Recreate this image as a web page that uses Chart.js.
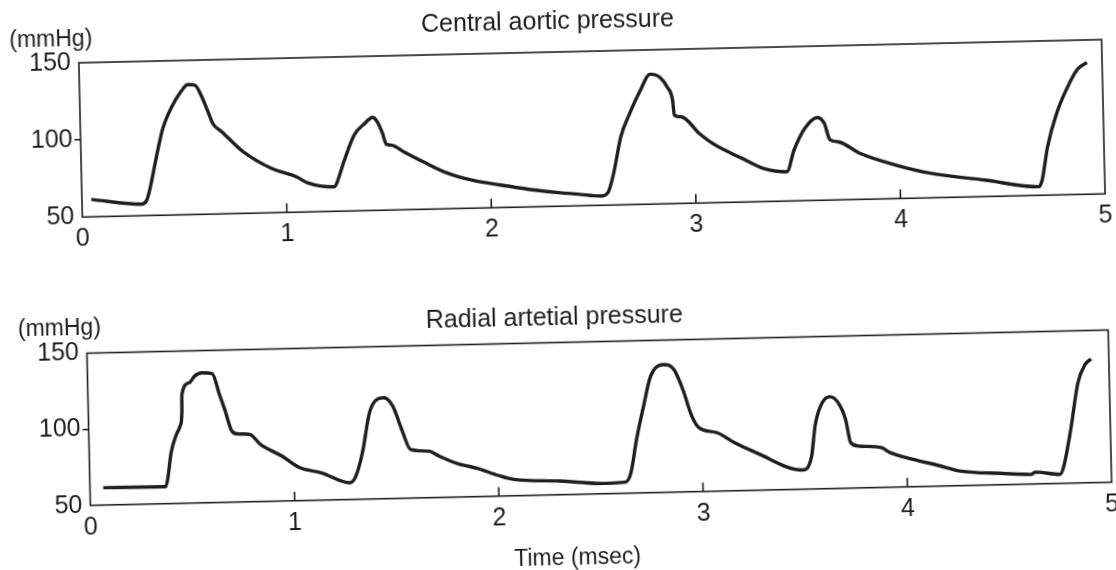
<!DOCTYPE html>
<html>
<head>
<meta charset="utf-8">
<script src="https://cdn.jsdelivr.net/npm/chart.js@4/dist/chart.umd.min.js"></script>
<style>
  html, body { margin: 0; padding: 0; background: #fff; overflow: hidden; }
  #sheet {
    position: absolute; left: 0; top: 0; width: 1116px; height: 570px;
    transform: rotate(-1.3deg); transform-origin: 558px 285px;
    font-family: 'Liberation Sans', Arial, sans-serif; color: #1e1e1e;
  }
  canvas { position: absolute; left: 0; }
  .lbl { position: absolute; font-size: 23px; line-height: 27px; white-space: nowrap; }
</style>
</head>
<body>
<div id="sheet">
  <canvas id="aortique" width="1116" height="280" style="top:0"></canvas>
  <canvas id="radiale" width="1116" height="290" style="top:280px"></canvas>
  <div class="lbl" style="left:15px; top:14px">(mmHg)</div>
  <div class="lbl" style="left:17px; top:303px">(mmHg)</div>
  <div class="lbl" style="left:508px; top:544px">Time (msec)</div>
</div>
<script>
// axes
const timeTicks = [0, 1, 2, 3, 4, 5];
const innerTicks = [1, 2, 3, 4];
const pressureTicks = [50, 100, 150];

// central aortic pressure
const aorticTime = [
  0.046, 0.29, 0.317, 0.336, 0.365, 0.384, 0.403, 0.449, 0.495, 0.530,
  0.565, 0.590, 0.623, 0.648, 0.691, 0.794, 0.931, 1.052, 1.104, 1.235,
  1.253, 1.281, 1.337, 1.39, 1.429, 1.452, 1.476, 1.493, 1.518, 1.579,
  1.682, 1.786, 1.907, 2.047, 2.186, 2.339, 2.424, 2.537, 2.573, 2.601,
  2.640, 2.686, 2.741, 2.790, 2.839, 2.872, 2.897, 2.904, 2.939, 3.024,
  3.093, 3.231, 3.334, 3.448, 3.485, 3.540, 3.602, 3.636, 3.661, 3.704,
  3.807, 3.981, 4.154, 4.415, 4.676, 4.694, 4.724, 4.772, 4.846, 4.882,
  4.926
];
const aorticPressure = [
  61.3, 57.5, 60.1, 68.6, 85.8, 96.6, 106.2, 120.1, 129.7, 134.3,
  133.8, 128.3, 117.4, 108.7, 103.2, 89.9, 78.7, 72.9, 68.9, 65.9,
  70.2, 80.9, 99.1, 106.5, 110.3, 107.3, 99.8, 92.8, 92.1, 87.5,
  80.1, 73.3, 68.2, 64.6, 61.4, 58.7, 57.6, 56.0, 58.6, 70.5,
  94.1, 109.1, 124.0, 134.2, 131.9, 125.7, 117.1, 107.3, 106.1, 95.1,
  88.0, 78.3, 71.5, 69.0, 82.9, 96.8, 103.7, 99.7, 89.3, 87.6,
  79.8, 71.7, 65.8, 60.7, 55.6, 59.8, 81.3, 102.8, 124.2, 131.6,
  135.4
];

// radial arterial pressure
const radialTime = [
  0.065, 0.371, 0.381, 0.401, 0.429, 0.448, 0.458, 0.460, 0.497, 0.523,
  0.559, 0.611, 0.644, 0.668, 0.701, 0.727, 0.788, 0.839, 0.943, 1.029,
  1.133, 1.272, 1.299, 1.337, 1.376, 1.413, 1.448, 1.491, 1.532, 1.573,
  1.661, 1.713, 1.799, 1.904, 1.999, 2.077, 2.301, 2.508, 2.622, 2.649,
  2.680, 2.718, 2.756, 2.819, 2.871, 2.912, 2.953, 2.987, 3.074, 3.160,
  3.264, 3.489, 3.535, 3.555, 3.584, 3.629, 3.671, 3.705, 3.728, 3.772,
  3.877, 3.920, 4.032, 4.154, 4.259, 4.468, 4.608, 4.626, 4.748, 4.766,
  4.806, 4.846, 4.883, 4.913
];
const radialPressure = [
  61.4, 61.1, 65.9, 83.4, 95.3, 100.7, 109.4, 121.4, 129.0, 133.2,
  135.4, 134.7, 120.9, 111.0, 96.6, 94.8, 94.2, 87.5, 79.5, 71.6,
  68.0, 61.0, 64.2, 80.5, 106.6, 115.2, 116.3, 110.6, 95.2, 81.9,
  80.6, 77.1, 72.1, 68.3, 63.6, 60.7, 59.0, 56.8, 57.3, 63.4,
  85.2, 106.9, 126.5, 133.9, 130.5, 117.3, 99.6, 91.9, 88.4, 81.5,
  74.7, 62.6, 71.6, 91.2, 104.3, 110.3, 106.2, 95.2, 79.8, 77.4,
  76.1, 72.7, 67.9, 63.6, 59.6, 57.4, 56.3, 57.8, 55.9, 60.3,
  85.3, 115.8, 127.7, 131.3
];

const ink = '#1e1e1e';
const fontFamily = "'Liberation Sans', Arial, sans-serif";

// cadre complet + petits traits vers l'intérieur sur l'axe du temps
const cadre = {
  id: 'cadre',
  beforeDatasetsDraw(chart) {
    const { ctx, chartArea: a, scales: { x } } = chart;
    ctx.save();
    ctx.strokeStyle = ink;
    ctx.lineWidth = 1.6;
    ctx.strokeRect(a.left, a.top, a.right - a.left, a.bottom - a.top);
    ctx.beginPath();
    innerTicks.forEach(v => {
      const px = x.getPixelForValue(v);
      ctx.moveTo(px, a.bottom);
      ctx.lineTo(px, a.bottom - 9);
    });
    ctx.stroke();
    ctx.restore();
  }
};

function makeChart(id, titre, times, values, geo) {
  return new Chart(document.getElementById(id), {
    type: 'line',
    data: {
      datasets: [{
        data: times.map((t, i) => ({ x: t, y: values[i] })),
        borderColor: ink,
        borderWidth: 3.4,
        pointRadius: 0,
        cubicInterpolationMode: 'monotone',
        fill: false
      }]
    },
    options: {
      responsive: false,
      animation: false,
      layout: { padding: { left: 0, right: geo.right, top: 0, bottom: 0 } },
      plugins: {
        legend: { display: false },
        tooltip: { enabled: false },
        title: {
          display: true,
          text: titre,
          color: ink,
          font: { family: fontFamily, size: 25, weight: 'normal' },
          padding: { top: geo.titleTop, bottom: geo.titleBottom }
        }
      },
      scales: {
        x: {
          type: 'linear',
          min: 0,
          max: 5,
          afterBuildTicks: s => { s.ticks = timeTicks.map(v => ({ value: v })); },
          ticks: { color: ink, padding: -1, font: { family: fontFamily, size: 25 } },
          grid: { display: false },
          border: { display: false },
          afterFit: s => { s.height = geo.xHeight; }
        },
        y: {
          min: 50,
          max: 150,
          afterBuildTicks: s => { s.ticks = pressureTicks.map(v => ({ value: v })); },
          ticks: { color: ink, padding: 2, font: { family: fontFamily, size: 25 } },
          grid: {
            drawOnChartArea: false,
            tickLength: 6,
            lineWidth: 1.6,
            color: c => (c.tick && c.tick.value === 100 ? ink : 'rgba(0,0,0,0)')
          },
          border: { display: false },
          afterFit: s => { s.width = geo.yWidth; }
        }
      }
    },
    plugins: [cadre]
  });
}

makeChart('aortique', 'Central aortic pressure', aorticTime, aorticPressure,
  { right: 9, titleTop: 7, titleBottom: 15, xHeight: 73.7, yWidth: 84 });
makeChart('radiale', 'Radial artetial pressure', radialTime, radialPressure,
  { right: 9, titleTop: 23, titleBottom: 9.5, xHeight: 75.3, yWidth: 85.5 });
</script>
</body>
</html>
